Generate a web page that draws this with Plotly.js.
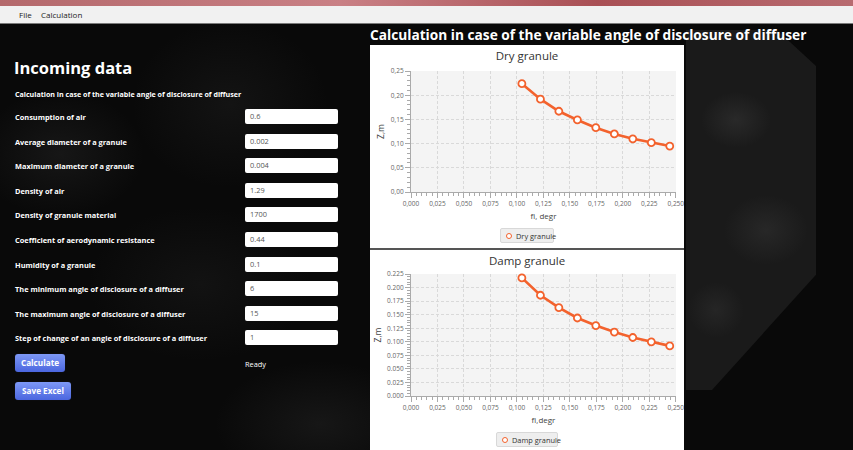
<!DOCTYPE html>
<html>
<head>
<meta charset="utf-8">
<script src="https://cdn.plot.ly/plotly-3.0.1.min.js"></script>
<style>
html,body{margin:0;padding:0;width:853px;height:450px;overflow:hidden;font-family:"Open Sans","Noto Sans",sans-serif;}
#app{position:absolute;left:0;top:0;width:853px;height:450px;background:#0a0a0a;overflow:hidden;}
#bg{position:absolute;left:0;top:24px;width:853px;height:426px;
 background:
 radial-gradient(ellipse 120px 90px at 60px 130px, rgba(120,120,120,0.12), rgba(0,0,0,0) 70%),
 radial-gradient(ellipse 140px 120px at 230px 80px, rgba(110,110,110,0.10), rgba(0,0,0,0) 70%),
 radial-gradient(ellipse 160px 110px at 200px 260px, rgba(100,100,100,0.10), rgba(0,0,0,0) 70%),
 radial-gradient(ellipse 150px 90px at 320px 400px, rgba(120,120,120,0.12), rgba(0,0,0,0) 70%),
 #090909;}
#rock{position:absolute;left:686px;top:30px;width:130px;height:360px;
 clip-path:polygon(0% 0%,70% 0%,100% 10%,100% 68%,20% 100%,0% 100%);
 background:
 radial-gradient(ellipse 50px 40px at 50px 90px, rgba(120,120,120,0.16), rgba(0,0,0,0) 70%),
 radial-gradient(ellipse 60px 50px at 80px 200px, rgba(120,120,120,0.14), rgba(0,0,0,0) 70%),
 radial-gradient(ellipse 40px 40px at 30px 280px, rgba(120,120,120,0.12), rgba(0,0,0,0) 70%),
 #1a1a1a;}
#topstrip{position:absolute;left:0;top:0;width:853px;height:6px;background:linear-gradient(90deg,#b4696c,#c98085 40%,#a95055 70%,#b86b70);}
#menubar{position:absolute;left:0;top:6px;width:853px;height:17px;background:#f1f1f1;border-bottom:1px solid #7a7a7a;font-size:8px;color:#222;}
#menubar span{position:absolute;top:3px;}
.lbl{position:absolute;left:15px;color:#fff;font-weight:bold;font-size:7.4px;white-space:nowrap;}
.inp{position:absolute;left:245px;width:88px;height:15px;background:#fff;border-radius:2px;font-size:7.4px;color:#555;line-height:15px;padding-left:5px;}
.btn{position:absolute;left:15px;height:18px;border-radius:3px;background:linear-gradient(#7d98f5,#4b66df);color:#fff;font-weight:bold;font-size:8.2px;line-height:18px;text-align:center;box-shadow:0 0 1px #223;}
#h1{position:absolute;left:14px;top:56px;color:#fff;font-weight:bold;font-size:16.5px;white-space:nowrap;}
#maintitle{position:absolute;left:370px;top:25px;color:#fff;font-weight:bold;font-size:13.7px;white-space:nowrap;}
#chart1{position:absolute;left:370px;top:45px;width:314px;height:203px;background:#fff;}
#sep{position:absolute;left:370px;top:248px;width:314px;height:2px;background:#555;}
#chart2{position:absolute;left:370px;top:250px;width:314px;height:200px;background:#fff;}
.leg{position:absolute;height:15px;background:#eeeeee;border:1px solid #d8d8d8;border-radius:2px;font-size:7.4px;color:#333;line-height:15px;white-space:nowrap;box-sizing:border-box;padding-left:15px;}
.leg i{position:absolute;left:5px;top:4px;width:4px;height:4px;border:1.6px solid #f3622d;border-radius:50%;background:#fff;}
</style>
</head>
<body>
<div id="app">
 <div id="bg"></div>
 <div id="rock"></div>
 <div id="topstrip"></div>
 <div id="menubar"><span style="left:19px">File</span><span style="left:41px">Calculation</span></div>
 <div id="h1">Incoming data</div>
 <div id="form"></div>
 <div class="btn" style="top:354px;width:50px;">Calculate</div>
 <div class="lbl" style="left:245px;top:359px;font-weight:normal;">Ready</div>
 <div class="btn" style="top:382px;width:56px;">Save Excel</div>
 <div id="maintitle">Calculation in case of the variable angle of disclosure of diffuser</div>
 <div id="chart1"></div>
 <div id="sep"></div>
 <div id="chart2"></div>
 <div class="leg" id="leg1" style="left:500px;top:228px;width:54px;"><i></i></div>
 <div class="leg" id="leg2" style="left:496px;top:432px;width:62px;"><i></i></div>
</div>
<script>
// ---- form data ----
const formLabels = [
 "Consumption of air",
 "Average diameter of a granule",
 "Maximum diameter of a granule",
 "Density of air",
 "Density of granule material",
 "Coefficient of aerodynamic resistance",
 "Humidity of a granule",
 "The minimum angle of disclosure of a diffuser",
 "The maximum angle of disclosure of a  diffuser",
 "Step of change of an angle of disclosure of a diffuser"
];
const formValues = ["0.6","0.002","0.004","1.29","1700","0.44","0.1","6","15","1"];

// ---- chart data ----
const seriesNames = ["Dry granule", "Damp granule"];
const fiRad = [0.1047, 0.1222, 0.1396, 0.1571, 0.1745, 0.1920, 0.2094, 0.2269, 0.2443];
const zDry  = [0.224, 0.192, 0.167, 0.149, 0.133, 0.120, 0.110, 0.102, 0.095];
const zDamp = [0.218, 0.186, 0.163, 0.144, 0.130, 0.118, 0.108, 0.100, 0.0925];
const dampYTickVals = [0,0.025,0.05,0.075,0.1,0.125,0.15,0.175,0.2,0.225];
const dampYTickText = ["0.000","0.025","0.050","0.075","0.100","0.125","0.150","0.175","0.200","0.225"];

// build form
const form = document.getElementById('form');
const sub = document.createElement('div');
sub.className='lbl'; sub.style.top='89px'; sub.style.fontSize='7.1px';
sub.textContent='Calculation in case of the variable angle of disclosure of diffuser';
form.appendChild(sub);
formLabels.forEach((t,i)=>{
  const top = 109 + i*24.6;
  const l = document.createElement('div'); l.className='lbl'; l.style.top=(top+3)+'px'; l.textContent=t; form.appendChild(l);
  const b = document.createElement('div'); b.className='inp'; b.style.top=top+'px'; b.textContent=formValues[i]; form.appendChild(b);
});
document.getElementById('leg1').appendChild(document.createTextNode(seriesNames[0]));
document.getElementById('leg2').appendChild(document.createTextNode(seriesNames[1]));

const ORANGE = '#f3622d';
function makeChart(id, title, xTitle, yvals, name, yaxisExtra, h, margins){
  const traces = [
    {x: fiRad, y: yvals, mode:'lines+markers', name:name, line:{color:ORANGE,width:2.6},
     marker:{symbol:'circle', size:7, color:'#ffffff', line:{color:ORANGE,width:1.8}}, showlegend:false, cliponaxis:false}
  ];
  const tickfont = {size:6.5, color:'#666', family:'Open Sans, sans-serif'};
  const layout = {
    width:314, height:h, separators:', ',
    margin: margins,
    paper_bgcolor:'rgba(0,0,0,0)', plot_bgcolor:'#f4f4f4',
    font:{family:'Open Sans, sans-serif', color:'#444'},
    title:{text:title, font:{size:11.5,color:'#333'}, x:0.5, xanchor:'center', y:1-11/h, yanchor:'middle'},
    xaxis:{range:[0,0.2502], dtick:0.025, tick0:0, tickformat:'.3f', tickfont:tickfont, ticklabeloverflow:'allow',
      ticks:'outside', ticklen:5, tickcolor:'#aaa', showline:true, linecolor:'#aaa', linewidth:1,
      showgrid:true, gridcolor:'#d9d9d9', griddash:'3px,2px', gridwidth:1, zeroline:false,
      minor:{dtick:0.005, ticks:'outside', ticklen:3, tickcolor:'#aaa', showgrid:false},
      title:{text:xTitle, font:{size:8,color:'#444'}, standoff:6}, fixedrange:true, automargin:false},
    yaxis:Object.assign({tickfont:tickfont, ticklabeloverflow:'allow',
      ticks:'outside', ticklen:5, tickcolor:'#aaa', showline:true, linecolor:'#aaa', linewidth:1,
      showgrid:true, gridcolor:'#d9d9d9', griddash:'3px,2px', gridwidth:1, zeroline:false,
      title:{text:'Z,m', font:{size:8.5,color:'#444'}, standoff:4}, fixedrange:true, automargin:false}, yaxisExtra),
    showlegend:false
  };
  Plotly.newPlot(id, traces, layout, {displayModeBar:false, staticPlot:true});
}

makeChart('chart1','Dry granule','fi, degr', zDry, seriesNames[0],
  {range:[0,0.2502], dtick:0.05, tick0:0, tickformat:'.2f', minor:{dtick:0.01, ticks:'outside', ticklen:3, tickcolor:'#aaa', showgrid:false}},
  203, {l:41,r:8,t:26,b:56,pad:0,autoexpand:false});
makeChart('chart2','Damp granule','fi,degr', zDamp, seriesNames[1],
  {range:[0,0.2252], tickmode:'array', tickvals:dampYTickVals, ticktext:dampYTickText, minor:{dtick:0.005, ticks:'outside', ticklen:3, tickcolor:'#aaa', showgrid:false}},
  200, {l:41,r:8,t:24,b:54,pad:0,autoexpand:false});
</script>
</body>
</html>
